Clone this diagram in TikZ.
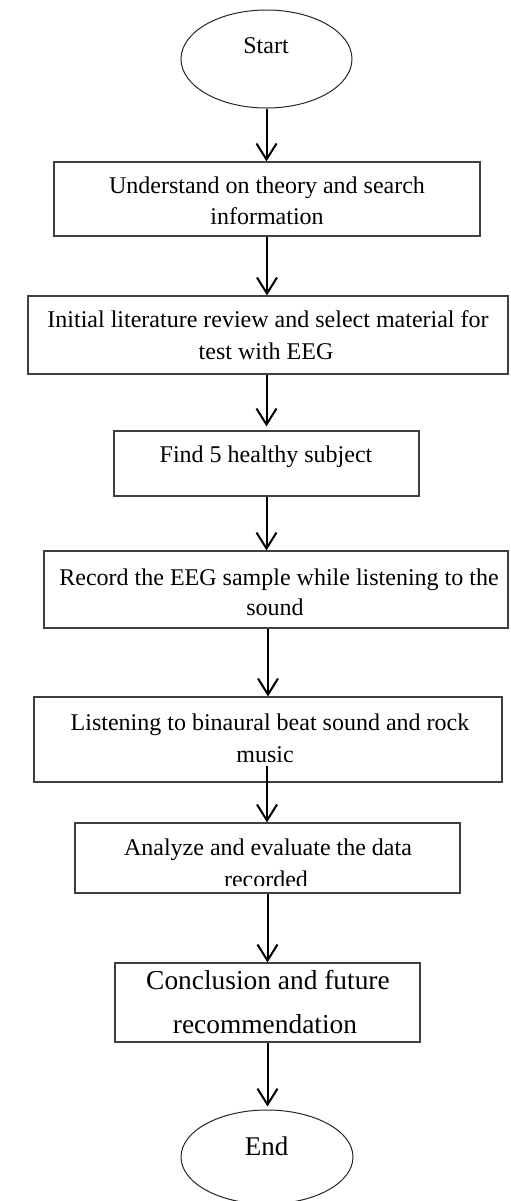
\documentclass[tikz,border=0pt]{standalone}
\usepackage{fontspec}
\setmainfont{Liberation Serif}
\usetikzlibrary{arrows.meta,calc,shapes.geometric}
\begin{document}
\begin{tikzpicture}[x=0.5pt,y=-0.5pt,
  stepbox/.style={draw=black!75,line width=0.6pt,rectangle,inner sep=0pt},
  term/.style={draw=black!85,line width=0.5pt,ellipse,inner sep=0pt},
  txt/.style={inner sep=0pt,anchor=base,font=\fontsize{12}{14}\selectfont},
  bigtxt/.style={inner sep=0pt,anchor=base,font=\fontsize{13.7}{16}\selectfont},
  arr/.style={line width=1pt,-{Straight Barb[length=8pt,width=10pt,line width=1pt]}}]
\useasboundingbox (0,0) rectangle (510,1201);

% shapes
\node[term,minimum width=85.5pt,minimum height=49pt] (start) at (266.5,59) {};
\node[stepbox,minimum width=213pt,minimum height=37pt] (b1) at (267,199) {};
\node[stepbox,minimum width=240pt,minimum height=39pt] (b2) at (268,335) {};
\node[stepbox,minimum width=152.5pt,minimum height=32.5pt] (b3) at (266.5,463.5) {};
\node[stepbox,minimum width=232pt,minimum height=38.5pt] (b4) at (276,589.5) {};
\node[stepbox,minimum width=234pt,minimum height=42.5pt] (b5) at (268,739.5) {};
\node[stepbox,minimum width=192.5pt,minimum height=35pt] (b6) at (267.5,858) {};
\node[stepbox,minimum width=152.5pt,minimum height=39.5pt] (b7) at (267.5,1002.5) {};
\node[term,minimum width=86pt,minimum height=47pt] (end) at (267,1157) {};

% texts
\node[txt] (t0) at (266,53) {Start};
\node[txt] (t1a) at (267,193) {Understand on theory and search};
\node[txt] (t1b) at (267,224) {information};
\node[txt] (t2a) at (268,327) {Initial literature review and select material for};
\node[txt] (t2b) at (266,359) {test with EEG};
\node[txt] (t3) at (266,462) {Find 5 healthy subject};
\node[txt] (t4a) at (279,585) {Record the EEG sample while listening to the};
\node[txt] (t4b) at (275,615) {sound};
\node[txt] (t5a) at (270,730) {Listening to binaural beat sound and rock};
\node[txt] (t5b) at (265,762) {music};
\node[txt] (t6a) at (268,855) {Analyze and evaluate the data};
\begin{scope}
  \clip (b6.north west) rectangle ($(b6.south east)+(0,-8)$);
  \node[txt] (t6b) at (266,887) {recorded};
\end{scope}
\node[bigtxt] (t7a) at (268,989) {Conclusion and future};
\node[bigtxt] (t7b) at (265,1033) {recommendation};
\node[inner sep=0pt,anchor=base,font=\fontsize{13.5}{16}\selectfont] (t8) at (266.5,1155) {End};

% connectors
\coordinate (a6s) at ($(b5.south)+(-1,-17)$);
\draw[arr] (start.south) -- (start.south |- b1.north);
\draw[arr] (b1.south) -- (b1.south |- b2.north);
\draw[arr,shorten >=2pt] (b2.south -| b3.north) -- (b3.north);
\draw[arr] (b3.south) -- (b3.south |- b4.north);
\draw[arr] (b4.south -| b5.north) -- (b5.north);
\draw[arr] (a6s) -- (a6s |- b6.north);
\draw[arr] (b6.south) -- (b6.south |- b7.north);
\draw[arr,shorten >=1.5pt] (b7.south) -- (b7.south |- end.north);
\end{tikzpicture}
\end{document}
